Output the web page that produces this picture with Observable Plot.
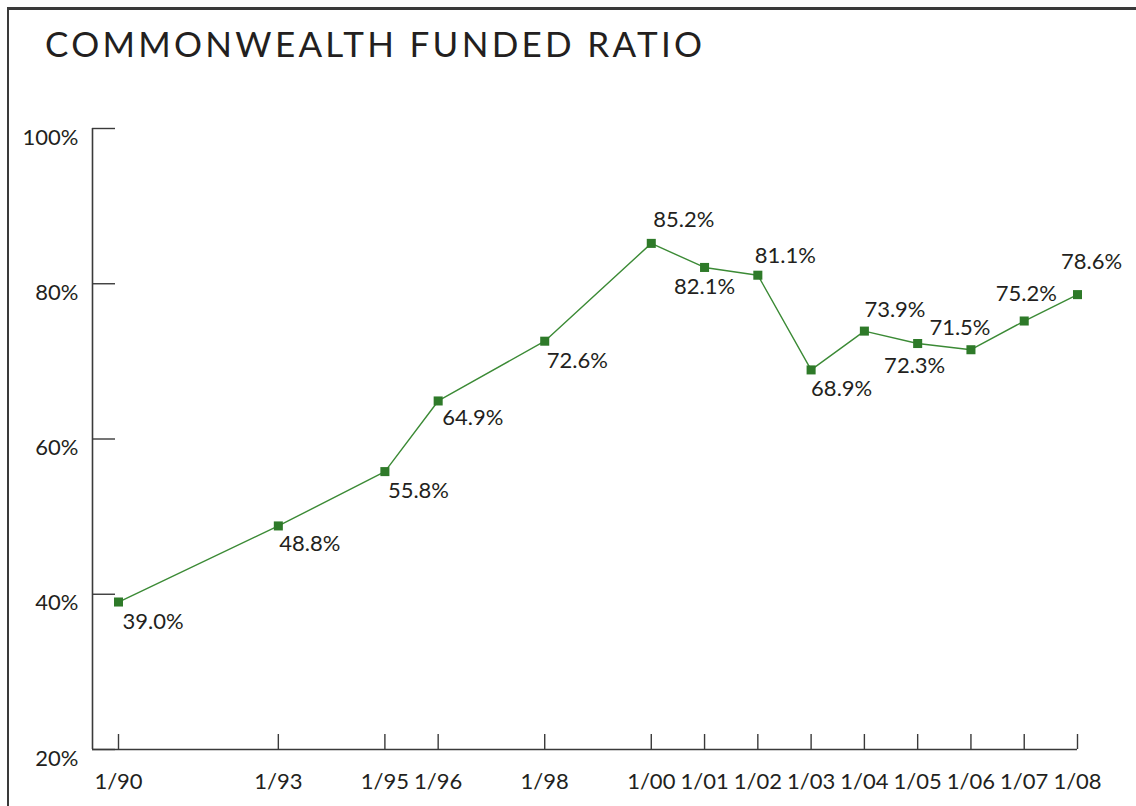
<!DOCTYPE html>
<html>
<head>
<meta charset="utf-8">
<script src="https://cdn.jsdelivr.net/npm/d3@7"></script>
<script src="https://cdn.jsdelivr.net/npm/@observablehq/plot@0.6"></script>
<style>
  html, body { margin: 0; padding: 0; background: #fff; }
  #page { position: relative; width: 1136px; height: 806px; overflow: hidden; font-family: Lato, "Open Sans", sans-serif; }
  #frame { position: absolute; left: 7px; top: 7px; width: 1200px; height: 900px; border-top: 3px solid #3a3a3a; border-left: 2px solid #3a3a3a; box-sizing: border-box; }
  #title { position: absolute; left: 45px; top: 26px; font-size: 35px; line-height: 35px; color: #231f20; white-space: nowrap; font-weight: 400; }
  #chart { position: absolute; left: 0; top: 80px; }
</style>
</head>
<body>
<div id="page">
  <div id="frame"></div>
  <div id="title">COMMONWEALTH FUNDED RATIO</div>
  <div id="chart"></div>
</div>
<script>
// ---- data ----
const years  = [1990, 1993, 1995, 1996, 1998, 2000, 2001, 2002, 2003, 2004, 2005, 2006, 2007, 2008];
const values = [39.0, 48.8, 55.8, 64.9, 72.6, 85.2, 82.1, 81.1, 68.9, 73.9, 72.3, 71.5, 75.2, 78.6];
const yTicks = [20, 40, 60, 80, 100];
const xTicks = years;
const titleText = "COMMONWEALTH FUNDED RATIO";

// label placement (style only): [textAnchor, dx, dy]
const labelPlacement = [
  ["start", 4, 20], ["start", 1, 18], ["start", 3, 19], ["start", 4, 17], ["start", 2, 20],
  ["start", 2, -23], ["middle", 0, 20], ["start", -3, -19], ["start", 0, 19], ["start", 0, -21],
  ["middle", -3, 22], ["middle", -11, -22], ["middle", 2, -27], ["middle", 14, -33]
];

const data = years.map((y, i) => ({year: y, value: values[i]}));

// ---- title letter spacing to fit width ----
(function () {
  const el = document.getElementById("title");
  const c = document.createElement("canvas").getContext("2d");
  c.font = "400 35px Lato";
  const w = c.measureText(titleText).width;
  const target = 657;
  el.style.letterSpacing = ((target - w) / (titleText.length - 1)) + "px";
})();

// ---- chart ----
const W = 1136, H = 726, mT = 48, mB = 57, mL = 92, mR = 59;
const frameW = W - mL - mR, frameH = H - mT - mB;
const xStart = 1990 - 26 * 18 / (1077 - 118); // axis origin left of first year
const ink = "#231f20", axisInk = "#3a3a3a";
const green = "#3b8a35", markerGreen = "#2e7a29";

const labelMarks = data.map((d, i) => {
  const [anchor, dx, dy] = labelPlacement[i];
  return Plot.text([d], {
    x: "year", y: "value", text: v => v.value.toFixed(1) + "%",
    textAnchor: anchor, dx, dy, fill: ink, fontSize: 22
  });
});

const chart = Plot.plot({
  width: W, height: H,
  marginTop: mT, marginBottom: mB, marginLeft: mL, marginRight: mR,
  x: {type: "linear", domain: [xStart, 2008], label: null},
  y: {domain: [20, 100], label: null},
  style: {fontFamily: "Lato, 'Open Sans', sans-serif", fontSize: "22px", color: ink, background: "transparent"},
  marks: [
    Plot.ruleY([20], {stroke: axisInk, strokeWidth: 1.6}),
    Plot.ruleX([xStart], {y1: 20, y2: 100, stroke: axisInk, strokeWidth: 1.6}),
    Plot.tickY(yTicks, {y: d => d, stroke: axisInk, strokeWidth: 1.4, insetRight: frameW - 23}),
    Plot.tickX(xTicks, {x: d => d, stroke: axisInk, strokeWidth: 1.4, insetTop: frameH - 15}),
    Plot.axisY(yTicks, {label: null, tickSize: 0, tickPadding: 14, dy: 9, tickFormat: d => d + "%", fill: ink, fontSize: 22}),
    Plot.axisX(xTicks, {label: null, tickSize: 0, tickPadding: 24, tickFormat: d => "1/" + String(d % 100).padStart(2, "0"), fill: ink, fontSize: 22}),
    Plot.line(data, {x: "year", y: "value", stroke: green, strokeWidth: 1.4}),
    Plot.dot(data, {x: "year", y: "value", symbol: "square", r: 5.1, fill: markerGreen, stroke: "none"}),
    ...labelMarks
  ]
});
document.getElementById("chart").appendChild(chart);
</script>
</body>
</html>
